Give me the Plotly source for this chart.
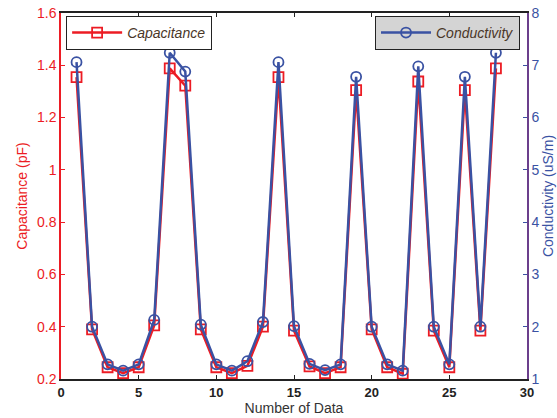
import plotly.graph_objects as go

n = list(range(1, 29))
capacitance = [1.355, 0.39, 0.245, 0.222, 0.245, 0.405, 1.388, 1.322, 0.39, 0.245,
               0.222, 0.25, 0.40, 1.355, 0.385, 0.248, 0.222, 0.245, 1.305, 0.39,
               0.245, 0.22, 1.338, 0.385, 0.245, 1.305, 0.385, 1.388]
conductivity = [7.06, 2.0, 1.28, 1.16, 1.28, 2.13, 7.24, 6.88, 2.04, 1.28,
                1.16, 1.34, 2.09, 7.06, 2.01, 1.29, 1.17, 1.28, 6.78, 2.0,
                1.28, 1.16, 6.98, 2.0, 1.28, 6.78, 2.0, 7.24]

RED = "#ec1c24"
BLUE = "#3a52a3"
FONT = "Arial, Liberation Sans, sans-serif"

fig = go.Figure()
fig.add_trace(go.Scatter(
    x=n, y=capacitance, name="Capacitance", mode="lines+markers",
    line=dict(color=RED, width=2.5),
    marker=dict(symbol="square-open", size=10, color=RED, line=dict(width=1.8)),
    legend="legend", yaxis="y", showlegend=True))
fig.add_trace(go.Scatter(
    x=n, y=conductivity, name="Conductivity", mode="lines+markers",
    line=dict(color=BLUE, width=2.5),
    marker=dict(symbol="circle-open", size=10, color=BLUE, line=dict(width=1.8)),
    legend="legend2", yaxis="y2", showlegend=True))

fig.update_layout(
    width=557, height=418,
    margin=dict(l=61, r=30, t=13, b=39, autoexpand=False),
    showlegend=True,
    paper_bgcolor="white", plot_bgcolor="white",
    font=dict(family=FONT),
    xaxis=dict(range=[0, 30], dtick=5, tick0=0, showgrid=False, zeroline=False,
               automargin=False,
               showline=True, linecolor="#222222", linewidth=2, mirror="ticks",
               ticks="inside", ticklen=4, tickcolor="#222222",
               tickfont=dict(size=13, color="#222222", weight="bold"),
               title=dict(text="Number of Data", font=dict(size=14, color="#333333"),
                          standoff=2)),
    yaxis=dict(range=[0.2, 1.6], dtick=0.2, tick0=0.2, showgrid=False, zeroline=False,
               automargin=False,
               showline=True, linecolor=RED, linewidth=1.5,
               ticks="inside", ticklen=4, tickcolor=RED,
               tickfont=dict(size=14, color=RED),
               title=dict(text="Capacitance (pF)", font=dict(size=14, color=RED),
                          standoff=6)),
    yaxis2=dict(range=[1, 8], dtick=1, tick0=1, overlaying="y", side="right",
                showgrid=False, zeroline=False, automargin=False,
                showline=True, linecolor="#6b3f8c", linewidth=1.5,
                ticks="inside", ticklen=4, tickcolor=BLUE,
                tickfont=dict(size=14, color=BLUE),
                title=dict(text="Conductivity (uS/m)", font=dict(size=14, color=BLUE),
                           standoff=0)),
    legend=dict(x=0.011, y=0.992, xanchor="left", yanchor="top",
                bgcolor="white", bordercolor="#222222", borderwidth=1,
                font=dict(size=14, color="#4a3728", style="italic"),
                itemwidth=50),
    legend2=dict(x=0.985, y=0.992, xanchor="right", yanchor="top",
                 bgcolor="#d4d4d4", bordercolor="#222222", borderwidth=1,
                 font=dict(size=14, color="#4a3728", style="italic"),
                 itemwidth=50),
)

fig.write_html("out.html", config={"displayModeBar": False},
               post_script="document.body.style.margin='0';document.body.style.padding='0';")
